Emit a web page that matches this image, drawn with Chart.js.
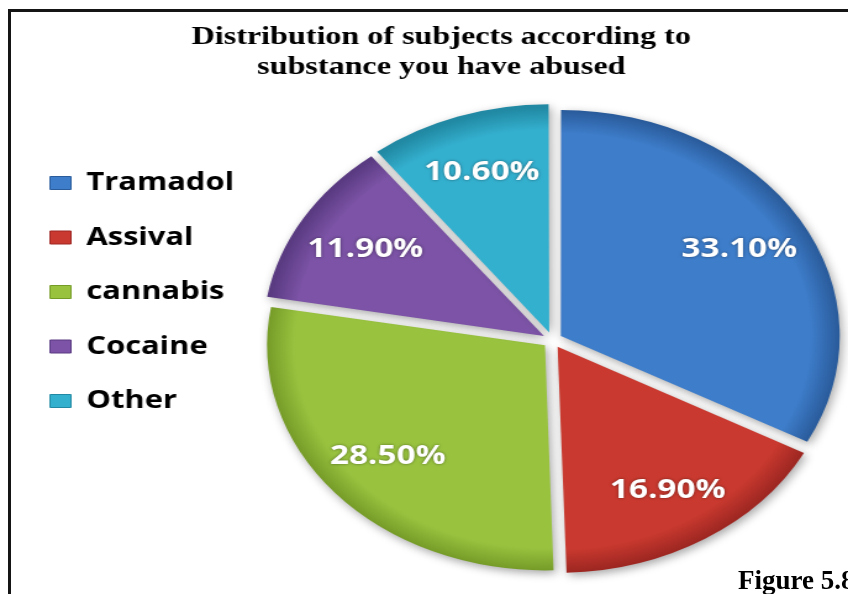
<!DOCTYPE html>
<html>
<head>
<meta charset="utf-8">
<script src="https://cdn.jsdelivr.net/npm/chart.js@4.4.1/dist/chart.umd.min.js"></script>
<style>
  html, body { margin: 0; padding: 0; background: #ffffff; width: 848px; height: 594px; overflow: hidden; position: relative; }
  #wrap { position: absolute; left: 0; top: 0; width: 704px; height: 594px; transform: scaleX(1.2344); transform-origin: 0 0; }
  #frame { position: absolute; left: 8px; top: 9px; width: 900px; height: 700px; border-left: 3px solid #151515; border-top: 3px solid #151515; pointer-events: none; }
  #fig { position: absolute; left: 738px; top: 565px; font: bold 27px "Liberation Serif", "Times New Roman", serif; color: #000; white-space: nowrap; }
</style>
</head>
<body>
<div id="wrap"><canvas id="c" width="704" height="594"></canvas></div>
<div id="frame"></div>
<div id="fig">Figure 5.8</div>
<script>
// ---- data ----
const titleLines = ['Distribution of subjects according to', 'substance you have abused'];
const categories = ['Tramadol', 'Assival', 'cannabis', 'Cocaine', 'Other'];
const percentages = [33.1, 16.9, 28.5, 11.9, 10.6];

// ---- styles ----
const sliceColors = ['#3E7DCA', '#C9392F', '#99C33F', '#7C53A6', '#34B0CF'];
const rimColors   = ['#2A5C9C', '#9E2722', '#769C28', '#5A3B82', '#2189A3'];
const PIE_RADIUS = 225;
const OFFSET_PX = 8;

function sliceFill(ctx) {
  const chart = ctx.chart;
  const area = chart.chartArea;
  const i = ctx.dataIndex;
  if (!area) return sliceColors[i];
  const cx = (area.left + area.right) / 2;
  const cy = (area.top + area.bottom) / 2;
  const g = chart.ctx.createRadialGradient(cx, cy, 0, cx, cy, PIE_RADIUS);
  g.addColorStop(0, sliceColors[i]);
  g.addColorStop(0.9, sliceColors[i]);
  g.addColorStop(1, rimColors[i]);
  return g;
}

const pieDecor = {
  id: 'pieDecor',
  beforeDatasetsDraw(chart) {
    const ctx = chart.ctx;
    ctx.save();
    ctx.shadowColor = 'rgba(0,0,0,0.35)';
    ctx.shadowBlur = 8;
    ctx.shadowOffsetX = 2;
    ctx.shadowOffsetY = 3;
  },
  afterDatasetsDraw(chart) {
    const ctx = chart.ctx;
    ctx.restore();
    const meta = chart.getDatasetMeta(0);
    ctx.save();
    ctx.font = 'bold 27px "Open Sans", "DejaVu Sans", sans-serif';
    ctx.fillStyle = '#ffffff';
    ctx.textAlign = 'center';
    ctx.textBaseline = 'middle';
    ctx.shadowColor = 'rgba(0,0,0,0.45)';
    ctx.shadowBlur = 3;
    meta.data.forEach((arc, i) => {
      const mid = (arc.startAngle + arc.endAngle) / 2;
      const r = arc.outerRadius * 0.75 + OFFSET_PX;
      const x = arc.x + Math.cos(mid) * r;
      const y = arc.y + Math.sin(mid) * r;
      ctx.fillText(percentages[i].toFixed(2) + '%', x, y);
    });
    ctx.restore();
  }
};

new Chart(document.getElementById('c'), {
  type: 'pie',
  data: {
    labels: categories,
    datasets: [{
      data: percentages,
      backgroundColor: sliceFill,
      borderWidth: 0,
      offset: OFFSET_PX * 4
    }]
  },
  options: {
    responsive: false,
    animation: false,
    radius: PIE_RADIUS,
    layout: { padding: { left: 11, right: 0, top: 0, bottom: 10 } },
    plugins: {
      title: {
        display: true,
        text: titleLines,
        color: '#000000',
        font: { family: '"Liberation Serif", "Times New Roman", serif', size: 26, weight: 'bold', lineHeight: 1.15 },
        padding: { top: 22, bottom: 14.2 }
      },
      legend: {
        display: true,
        position: 'left',
        align: 'center',
        maxWidth: 180,
        labels: {
          color: '#000000',
          font: { family: '"Open Sans", "DejaVu Sans", sans-serif', size: 25, weight: 'bold' },
          boxWidth: 17,
          boxHeight: 13,
          padding: 29.5,
          generateLabels: () => categories.map((c, i) => ({
            text: c,
            fillStyle: sliceColors[i],
            strokeStyle: rimColors[i],
            lineWidth: 1,
            hidden: false,
            index: i,
            fontColor: '#000000'
          }))
        }
      },
      tooltip: { enabled: false }
    }
  },
  plugins: [pieDecor]
});
</script>
</body>
</html>
